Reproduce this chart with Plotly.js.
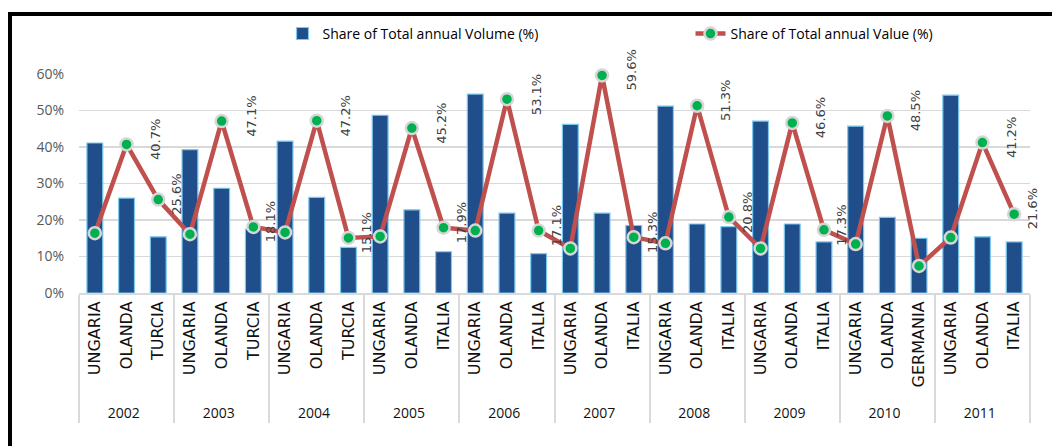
<!DOCTYPE html>
<html>
<head>
<meta charset="utf-8">
<script src="https://cdn.plot.ly/plotly-3.0.1.min.js"></script>
<style>
  html, body { margin: 0; padding: 0; background: #ffffff; width: 1052px; height: 446px; overflow: hidden; }
  #frame { position: absolute; left: 8px; top: 12px; width: 1060px; height: 460px; border: 4px solid #000; box-sizing: border-box; }
  #chart { position: absolute; left: 0; top: 0; width: 1052px; height: 446px; }
</style>
</head>
<body>
<div id="frame"></div>
<div id="chart"></div>
<script>
// ---- data ----
var years = ["2002", "2003", "2004", "2005", "2006", "2007", "2008", "2009", "2010", "2011"];
var countries = [
  "UNGARIA", "OLANDA", "TURCIA",
  "UNGARIA", "OLANDA", "TURCIA",
  "UNGARIA", "OLANDA", "TURCIA",
  "UNGARIA", "OLANDA", "ITALIA",
  "UNGARIA", "OLANDA", "ITALIA",
  "UNGARIA", "OLANDA", "ITALIA",
  "UNGARIA", "OLANDA", "ITALIA",
  "UNGARIA", "OLANDA", "ITALIA",
  "UNGARIA", "OLANDA", "GERMANIA",
  "UNGARIA", "OLANDA", "ITALIA"
];
// Share of Total annual Volume (%)
var volumeShare = [
  41.1, 26.0, 15.4,
  39.3, 28.7, 17.5,
  41.6, 26.2, 12.5,
  48.7, 22.8, 11.3,
  54.5, 21.9, 10.8,
  46.2, 21.9, 18.5,
  51.2, 18.9, 18.2,
  47.1, 18.9, 14.0,
  45.7, 20.7, 15.0,
  54.2, 15.4, 14.0
];
// Share of Total annual Value (%)
var valueShare = [
  16.4, 40.7, 25.6,
  16.1, 47.1, 18.1,
  16.6, 47.2, 15.1,
  15.5, 45.2, 17.9,
  17.1, 53.1, 17.1,
  12.2, 59.6, 15.3,
  13.6, 51.3, 20.8,
  12.2, 46.6, 17.3,
  13.4, 48.5, 7.4,
  15.2, 41.2, 21.6
];
// which value points carry a data label
var labelled = [
  false, true, true,
  false, true, true,
  false, true, true,
  false, true, true,
  false, true, true,
  false, true, true,
  false, true, true,
  false, true, true,
  false, true, false,
  false, true, true
];

// ---- build ----
var yearOfPoint = [];
for (var i = 0; i < countries.length; i++) {
  yearOfPoint.push('<span style="font-family:Open Sans;font-size:14px">' + years[Math.floor(i / 3)] + '</span>');
}
var xCats = [yearOfPoint, countries];

var barTrace = {
  type: "bar",
  name: "Share of Total annual Volume (%)",
  legend: "legend",
  x: xCats,
  y: volumeShare.map(function (v) { return v / 100; }),
  marker: { color: "#1f4e8a", line: { color: "#7ec8ee", width: 1.2 } },
  hoverinfo: "y"
};
var lineTrace = {
  type: "scatter",
  mode: "lines+markers",
  name: "Share of Total annual Value (%)",
  legend: "legend2",
  x: xCats,
  y: valueShare.map(function (v) { return v / 100; }),
  line: { color: "#c0504d", width: 4.5 },
  marker: { color: "#00b050", size: 12, line: { color: "#d6d6d6", width: 2.5 } },
  cliponaxis: false,
  hoverinfo: "y"
};

var annotations = [];
for (var j = 0; j < valueShare.length; j++) {
  if (!labelled[j]) continue;
  annotations.push({
    x: j,
    y: valueShare[j] / 100,
    xref: "x", yref: "y",
    text: valueShare[j].toFixed(1) + "%",
    textangle: -90,
    showarrow: false,
    xshift: countries[j] === "OLANDA" ? 29 : 18,
    yshift: 5,
    font: { family: "DejaVu Sans", size: 13, color: "#404040" }
  });
}

var legendFont = { family: "Open Sans", size: 14, color: "#000" };
var layout = {
  width: 1052,
  height: 446,
  margin: { l: 79, r: 22, t: 74, b: 153, autoexpand: false },
  paper_bgcolor: "rgba(0,0,0,0)",
  plot_bgcolor: "rgba(0,0,0,0)",
  bargap: 0.5,
  showlegend: true,
  legend: {
    orientation: "h",
    x: 0.214, xanchor: "left",
    y: 1.183, yanchor: "middle",
    font: legendFont,
    bgcolor: "rgba(0,0,0,0)"
  },
  legend2: {
    orientation: "h",
    x: 0.643, xanchor: "left",
    y: 1.183, yanchor: "middle",
    font: legendFont,
    bgcolor: "rgba(0,0,0,0)"
  },
  xaxis: {
    type: "multicategory",
    range: [-0.5, countries.length - 0.5],
    tickangle: -90,
    tickfont: { family: "DejaVu Sans", size: 16, color: "#111" },
    showline: true,
    linecolor: "#d9d9d9",
    linewidth: 2,
    showdividers: true,
    dividercolor: "#d9d9d9",
    dividerwidth: 2,
    ticks: "",
    showgrid: false,
    automargin: false,
    fixedrange: true
  },
  yaxis: {
    range: [0, 0.6],
    dtick: 0.1,
    tickformat: ".0%",
    tickfont: { family: "Open Sans", size: 14, color: "#595959" },
    ticklabelstandoff: 14,
    showgrid: true,
    gridcolor: "#d9d9d9",
    gridwidth: 1.5,
    zeroline: false,
    showline: false,
    ticks: "",
    automargin: false,
    fixedrange: true
  },
  annotations: annotations
};

Plotly.newPlot("chart", [barTrace, lineTrace], layout, { displayModeBar: false, staticPlot: true });
</script>
</body>
</html>
